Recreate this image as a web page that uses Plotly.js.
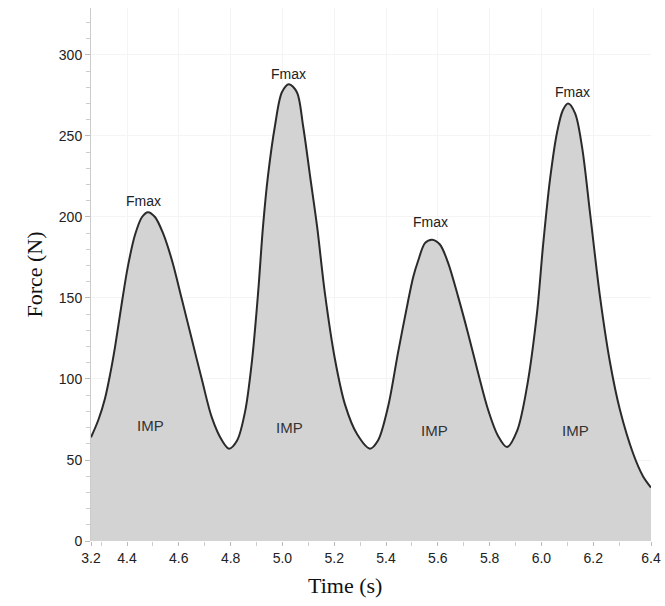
<!DOCTYPE html>
<html>
<head>
<meta charset="utf-8">
<script src="https://cdn.plot.ly/plotly-3.0.1.min.js"></script>
<style>html,body{margin:0;padding:0;background:#fff;}#chart{width:665px;height:606px;}</style>
</head>
<body>
<div id="chart"></div>
<script>
// Time (s) and force (N)
const timeS = [4.261, 4.290, 4.315, 4.335, 4.354, 4.381, 4.404, 4.431, 4.458, 4.481, 4.508, 4.539, 4.574, 4.612, 4.651, 4.690, 4.728, 4.767, 4.794, 4.825, 4.856, 4.883, 4.906, 4.925, 4.944, 4.971, 4.998, 5.025, 5.056, 5.080, 5.107, 5.134, 5.164, 5.203, 5.242, 5.288, 5.338, 5.369, 5.408, 5.446, 5.485, 5.505, 5.524, 5.551, 5.578, 5.608, 5.639, 5.678, 5.717, 5.755, 5.794, 5.832, 5.867, 5.906, 5.944, 5.983, 6.006, 6.033, 6.060, 6.083, 6.103, 6.130, 6.157, 6.188, 6.226, 6.265, 6.303, 6.354, 6.392, 6.423];
const forceN = [64, 75, 88, 103, 120, 148, 170, 189, 200, 203, 200, 190, 173, 149, 124, 99, 76, 62, 57, 62, 80, 112, 153, 194, 225, 256, 277, 282, 277, 256, 225, 194, 153, 112, 84, 66, 57, 62, 83, 116, 148, 163, 173, 184, 186, 183, 172, 151, 128, 104, 81, 65, 58, 68, 95, 141, 182, 223, 252, 266, 270, 264, 243, 202, 151, 110, 81, 54, 40, 33];

const fmaxX = [4.462, 5.025, 5.571, 6.119];
const fmaxY = [210, 288, 197, 277];
const impX = [4.489, 5.029, 5.589, 6.130];
const impY = [71, 70, 68, 68];

const xTickVals = [4.261, 4.4, 4.6, 4.8, 5.0, 5.2, 5.4, 5.6, 5.8, 6.0, 6.2, 6.423];
const xTickText = ["3.2", "4.4", "4.6", "4.8", "5.0", "5.2", "5.4", "5.6", "5.8", "6.0", "6.2", "6.4"];

const annotations = [];
fmaxX.forEach((x, i) => annotations.push({x: x, y: fmaxY[i], text: "Fmax", showarrow: false, yanchor: "middle", font: {family: "Liberation Sans, Arial, sans-serif", size: 14, color: "#222"}}));
impX.forEach((x, i) => annotations.push({x: x, y: impY[i], text: "IMP", showarrow: false, font: {family: "Liberation Sans, Arial, sans-serif", size: 15, color: "#333"}}));
// x-axis title, placed where the reference draws it (left of plot centre)
annotations.push({xref: "paper", yref: "paper", x: 0.4536, y: -0.084, xanchor: "center", yanchor: "middle", showarrow: false,
  text: "Time (s)", font: {family: "Liberation Serif, Times New Roman, serif", size: 22, color: "#111"}});

const trace = {
  x: timeS, y: forceN, type: "scatter", mode: "lines",
  line: {color: "#2a2a2a", width: 2, shape: "spline", smoothing: 0.9},
  fill: "tozeroy", fillcolor: "#d3d3d3", hoverinfo: "skip"
};

const layout = {
  width: 665, height: 606,
  margin: {l: 91, r: 14, t: 8, b: 65},
  paper_bgcolor: "#fff", plot_bgcolor: "#fff",
  showlegend: false,
  xaxis: {
    range: [4.261, 6.423], tickmode: "array", tickvals: xTickVals, ticktext: xTickText,
    ticks: "outside", ticklen: 4, tickcolor: "#bbb", tickwidth: 1,
    minor: {tickmode: "linear", tick0: 4.3, dtick: 0.2, ticks: "outside", ticklen: 4, tickcolor: "#ccc", showgrid: false},
    showgrid: true, gridcolor: "#f4f4f4", zeroline: false, showline: false,
    tickfont: {family: "Liberation Sans, Arial, sans-serif", size: 14, color: "#222"}
  },
  yaxis: {
    range: [0, 329], tickmode: "linear", tick0: 0, dtick: 50,
    ticks: "outside", ticklen: 5, tickcolor: "#bbb", tickwidth: 1,
    minor: {dtick: 10, ticks: "outside", ticklen: 4, tickcolor: "#ccc", showgrid: false},
    showgrid: true, gridcolor: "#f4f4f4", zeroline: false,
    showline: true, linecolor: "#ccc", linewidth: 1,
    tickfont: {family: "Liberation Sans, Arial, sans-serif", size: 14, color: "#222"},
    title: {text: "Force (N)", font: {family: "Liberation Serif, Times New Roman, serif", size: 22, color: "#111"}, standoff: 10}
  },
  annotations: annotations
};

Plotly.newPlot("chart", [trace], layout, {displayModeBar: false, staticPlot: true});
</script>
</body>
</html>
